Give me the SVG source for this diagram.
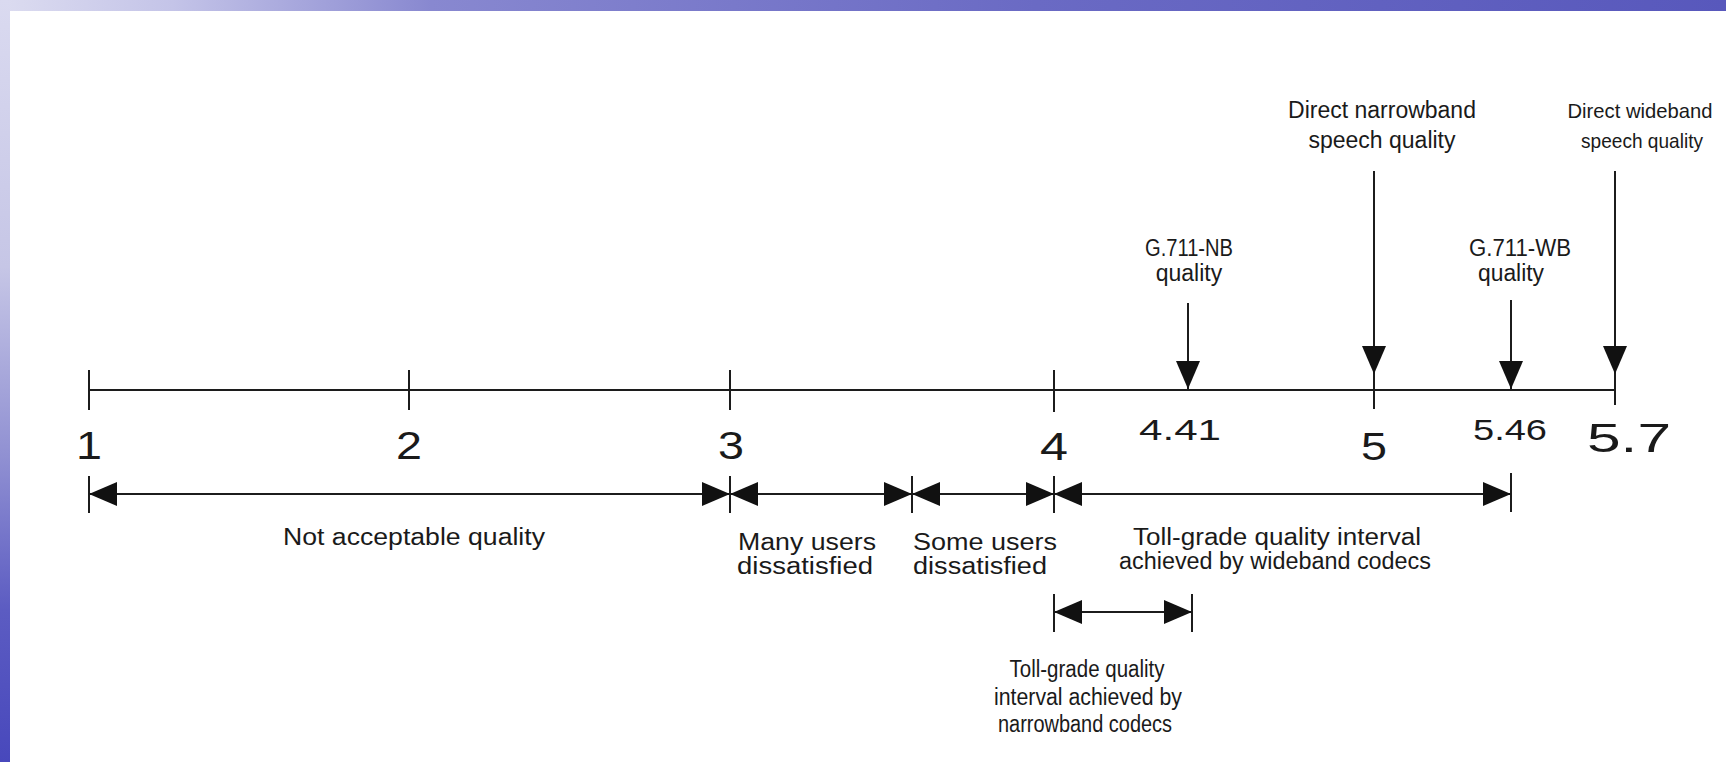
<svg xmlns="http://www.w3.org/2000/svg" width="1726" height="762" viewBox="0 0 1726 762">
  <defs>
    <linearGradient id="topBand" x1="0" y1="0" x2="1" y2="0">
      <stop offset="0" stop-color="#dcdcf0"/>
      <stop offset="0.1" stop-color="#c4c4e8"/>
      <stop offset="0.25" stop-color="#8888d0"/>
      <stop offset="0.6" stop-color="#6a6ac4"/>
      <stop offset="1" stop-color="#5858bc"/>
    </linearGradient>
    <linearGradient id="sideBand" x1="0" y1="0" x2="0" y2="1">
      <stop offset="0" stop-color="#dadaf0"/>
      <stop offset="0.35" stop-color="#c6c6e6"/>
      <stop offset="0.6" stop-color="#9090d2"/>
      <stop offset="0.8" stop-color="#5c5cc2"/>
      <stop offset="1" stop-color="#4848bc"/>
    </linearGradient>
    <marker id="head" viewBox="0 0 28 24" refX="28" refY="12" markerWidth="28" markerHeight="24" markerUnits="userSpaceOnUse" orient="auto-start-reverse">
      <path d="M0,0 L28,12 L0,24 Z" fill="#111"/>
    </marker>
    <style>
      .ln { stroke: #1c1c1c; stroke-width: 2; fill: none; }
      .dbl { marker-start: url(#head); marker-end: url(#head); }
      .one { marker-end: url(#head); }
      text { font-family: "Liberation Sans", Arial, sans-serif; fill: #1a1a1a; }
      .num { font-size: 38px; text-anchor: middle; }
      .val { font-size: 30px; text-anchor: middle; }
      .lbl { font-size: 23px; }
      .sm { font-size: 21px; }
      .mid { text-anchor: middle; }
    </style>
  </defs>

  <!-- slide background -->
  <rect x="0" y="0" width="1726" height="762" fill="#ffffff"/>
  <rect x="0" y="0" width="1726" height="11" fill="url(#topBand)"/>
  <rect x="0" y="0" width="10" height="762" fill="url(#sideBand)"/>

  <!-- connectors: axis, ticks and interval arrows -->
  <g id="connectors">
    <line class="ln" x1="89" y1="390" x2="1615" y2="390"/>
    <line class="ln" x1="89" y1="370" x2="89" y2="410"/>
    <line class="ln" x1="409" y1="370" x2="409" y2="410"/>
    <line class="ln" x1="730" y1="370" x2="730" y2="410"/>
    <line class="ln" x1="1054" y1="370" x2="1054" y2="412"/>
    <line class="ln" x1="1374" y1="372" x2="1374" y2="409"/>
    <line class="ln" x1="1615" y1="372" x2="1615" y2="405"/>

    <line class="ln one" x1="1188" y1="303" x2="1188" y2="389"/>
    <line class="ln one" x1="1374" y1="171" x2="1374" y2="374"/>
    <line class="ln one" x1="1511" y1="300" x2="1511" y2="389"/>
    <line class="ln one" x1="1615" y1="171" x2="1615" y2="374"/>

    <line class="ln" x1="89" y1="476" x2="89" y2="513"/>
    <line class="ln" x1="730" y1="476" x2="730" y2="513"/>
    <line class="ln" x1="912" y1="476" x2="912" y2="513"/>
    <line class="ln" x1="1054" y1="476" x2="1054" y2="513"/>
    <line class="ln" x1="1511" y1="473" x2="1511" y2="512"/>
    <line class="ln dbl" x1="89" y1="494" x2="730" y2="494"/>
    <line class="ln dbl" x1="730" y1="494" x2="912" y2="494"/>
    <line class="ln dbl" x1="912" y1="494" x2="1054" y2="494"/>
    <line class="ln dbl" x1="1054" y1="494" x2="1511" y2="494"/>

    <line class="ln" x1="1054" y1="594" x2="1054" y2="632"/>
    <line class="ln" x1="1192" y1="594" x2="1192" y2="632"/>
    <line class="ln dbl" x1="1054" y1="612" x2="1192" y2="612"/>
  </g>

  <!-- scale values -->
  <g id="scale">
    <text class="num" x="89" y="459" textLength="26" lengthAdjust="spacingAndGlyphs">1</text>
    <text class="num" x="409" y="459" textLength="26" lengthAdjust="spacingAndGlyphs">2</text>
    <text class="num" x="731" y="459" textLength="26" lengthAdjust="spacingAndGlyphs">3</text>
    <text class="num" x="1054" y="460" textLength="28" lengthAdjust="spacingAndGlyphs">4</text>
    <text class="num" x="1374" y="460" textLength="26" lengthAdjust="spacingAndGlyphs">5</text>
    <text class="val" x="1180" y="440" textLength="82" lengthAdjust="spacingAndGlyphs">4.41</text>
    <text class="val" x="1510" y="440" textLength="74" lengthAdjust="spacingAndGlyphs">5.46</text>
    <text class="num" x="1629" y="452" style="font-size:41px" textLength="84" lengthAdjust="spacingAndGlyphs">5.7</text>
  </g>

  <g id="g711nb">
    <text class="lbl mid" x="1189" y="256" textLength="88" lengthAdjust="spacingAndGlyphs">G.711-NB</text>
    <text class="lbl mid" x="1189" y="281">quality</text>
  </g>
  <g id="g711wb">
    <text class="lbl mid" x="1520" y="256" textLength="102" lengthAdjust="spacingAndGlyphs">G.711-WB</text>
    <text class="lbl mid" x="1511" y="281" textLength="66" lengthAdjust="spacingAndGlyphs">quality</text>
  </g>
  <g id="direct-nb">
    <text class="lbl mid" x="1382" y="118">Direct narrowband</text>
    <text class="lbl mid" x="1382" y="148">speech quality</text>
  </g>
  <g id="direct-wb">
    <text class="sm mid" x="1640" y="118" textLength="145" lengthAdjust="spacingAndGlyphs">Direct wideband</text>
    <text class="sm mid" x="1642" y="148" textLength="122" lengthAdjust="spacingAndGlyphs">speech quality</text>
  </g>

  <g id="not-acceptable">
    <text class="lbl" x="283" y="545" textLength="262" lengthAdjust="spacingAndGlyphs">Not acceptable quality</text>
  </g>
  <g id="many-users">
    <text class="lbl" x="738" y="550" textLength="138" lengthAdjust="spacingAndGlyphs">Many users</text>
    <text class="lbl" x="737" y="574" textLength="136" lengthAdjust="spacingAndGlyphs">dissatisfied</text>
  </g>
  <g id="some-users">
    <text class="lbl" x="913" y="550" textLength="144" lengthAdjust="spacingAndGlyphs">Some users</text>
    <text class="lbl" x="913" y="574" textLength="134" lengthAdjust="spacingAndGlyphs">dissatisfied</text>
  </g>
  <g id="wideband-interval">
    <text class="lbl mid" x="1277" y="545" textLength="288" lengthAdjust="spacingAndGlyphs">Toll-grade quality interval</text>
    <text class="lbl mid" x="1275" y="569" textLength="312" lengthAdjust="spacingAndGlyphs">achieved by wideband codecs</text>
  </g>
  <g id="narrowband-interval">
    <text class="lbl mid" x="1087" y="677" textLength="155" lengthAdjust="spacingAndGlyphs">Toll-grade quality</text>
    <text class="lbl mid" x="1088" y="705" textLength="188" lengthAdjust="spacingAndGlyphs">interval achieved by</text>
    <text class="lbl mid" x="1085" y="732" textLength="174" lengthAdjust="spacingAndGlyphs">narrowband codecs</text>
  </g>
</svg>
